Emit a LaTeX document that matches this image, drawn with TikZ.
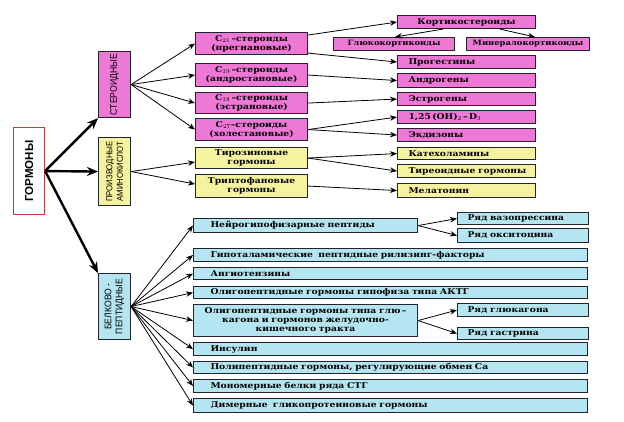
\documentclass[tikz,border=0pt]{standalone}
\usepackage{fontspec}
\setmainfont{DejaVu Serif}[FakeStretch=1.15]
\newfontfamily\lblfont[FakeStretch=0.9]{Liberation Sans}
\newfontfamily\gormfont{Liberation Sans}
\usetikzlibrary{arrows.meta,calc}
\definecolor{pinkf}{RGB}{238,120,214}
\definecolor{yelf}{RGB}{246,243,160}
\definecolor{bluef}{RGB}{180,229,240}
\definecolor{redb}{RGB}{196,60,50}
\definecolor{edge}{RGB}{35,35,45}
\tikzset{
  box/.style={draw=edge, line width=1.1pt, inner xsep=3pt, inner ysep=0pt, anchor=north west,
    font=\bfseries\fontsize{8}{9}\selectfont},
  pinkbox/.style={box, fill=pinkf},
  yelbox/.style={box, fill=yelf},
  bluebox/.style={box, fill=bluef},
  smallfont/.style={font=\bfseries\fontsize{7.3}{8}\selectfont},
  vlabel/.style={draw=edge, line width=1.1pt, anchor=north west, inner sep=0pt},
  vtext/.style={rotate=90, align=center, inner sep=0pt, font=\lblfont\fontsize{9.6}{11}\selectfont},
  arr/.style={-{Stealth[length=7pt,width=5.5pt]}, line width=0.8pt, draw=black},
  bigarr/.style={-{Stealth[length=11pt,width=9pt]}, line width=2.4pt, draw=black},
}
\newcommand\bx[8]{\node[#6, minimum width=#4pt, minimum height=#5pt, text width={#4pt-6pt}, align=#7] (#1) at (#2,#3) {#8};}
\begin{document}
\begin{tikzpicture}[x=1pt,y=-1pt]
\useasboundingbox (0,0) rectangle (624,421);
\fill[white] (0,0) rectangle (624,421);
% main boxes
\node[vlabel, draw=redb, fill=white, minimum width=31pt, minimum height=87pt] (gorm) at (13,127) {};
\node[rotate=90, inner sep=0pt, font=\gormfont\bfseries\fontsize{11.5}{12}\selectfont] (gormt) at (gorm.center) {ГОРМОНЫ};
\node[vlabel, fill=pinkf, minimum width=32pt, minimum height=66pt] (ster) at (98,51) {};
\node[vtext] (stert) at (ster.center) {СТЕРОИДНЫЕ};
\node[vlabel, fill=yelf, minimum width=32pt, minimum height=68pt] (amino) at (98,137) {};
\node[vtext, font=\lblfont\fontsize{8.6}{10.5}\selectfont] (aminot) at (amino.center) {ПРОИЗВОДНЫЕ\\АМИНОКИСЛОТ};
\node[vlabel, fill=bluef, minimum width=32pt, minimum height=66pt] (belk) at (98,273) {};
\node[vtext] (belkt) at (belk.center) {БЕЛКОВО -\\ПЕПТИДНЫЕ};
% steroids
\bx{c21}{195}{32}{112}{22}{pinkbox}{center}{C$_{21}$\,–стероиды\\(прегнановые)}
\bx{c19}{195}{63}{112}{23}{pinkbox}{center}{C$_{19}$\,–стероиды\\(андростановые)}
\bx{c18}{195}{92}{112}{21}{pinkbox}{center}{C$_{18}$\,–стероиды\\(эстрановые)}
\bx{c27}{195}{118}{112}{22}{pinkbox}{center}{C$_{27}$–стероиды\\(холестановые)}
\bx{tyr}{195}{147}{112}{21}{yelbox}{center}{Тирозиновые\\гормоны}
\bx{trp}{195}{174}{112}{23}{yelbox}{center}{Триптофановые\\гормоны}
\bx{kort}{397}{15}{138}{13}{pinkbox}{center}{Кортикостероиды}
\bx{gluc}{333}{37}{121}{13}{pinkbox, smallfont}{center}{Глюкокортикоиды}
\bx{miner}{466}{37}{123}{13}{pinkbox, smallfont}{center}{Минералокортикоиды}
\bx{prog}{397}{55}{138}{13}{pinkbox}{left}{\hspace*{8pt}Прогестины}
\bx{andr}{397}{73}{138}{14}{pinkbox}{left}{\hspace*{8pt}Андрогены}
\bx{estr}{397}{92}{138}{13}{pinkbox}{left}{\hspace*{8pt}Эстрогены}
\bx{d3}{397}{110}{138}{13}{pinkbox}{left}{\hspace*{8pt}1,25\,(OH)$_2$\,–\,D$_3$}
\bx{ekd}{397}{128}{138}{13}{pinkbox}{left}{\hspace*{8pt}Экдизоны}
\bx{kat}{397}{147}{138}{12}{yelbox}{left}{\hspace*{8pt}Катехоламины}
\bx{tir}{397}{164}{138}{13}{yelbox}{left}{\hspace*{8pt}Тиреоидные гормоны}
\bx{mel}{397}{183}{138}{14}{yelbox}{left}{\hspace*{8pt}Мелатонин}
% protein-peptide
\bx{neuro}{193}{218}{224}{14}{bluebox}{left}{\hspace*{14pt}Нейрогипофизарные пептиды}
\bx{hypo}{193}{248}{394}{13}{bluebox}{left}{\hspace*{14pt}Гипоталамические\ \ пептидные рилизинг-факторы}
\bx{angio}{193}{267}{394}{12}{bluebox}{left}{\hspace*{14pt}Ангиотензины}
\bx{oligo}{193}{286}{394}{12}{bluebox}{left}{\hspace*{14pt}Олигопептидные гормоны гипофиза типа АКТГ}
\bx{glu}{193}{304}{224}{32}{bluebox}{center}{Олигопептидные гормоны типа глю\,–\\кагона и гормонов желудочно-\\кишечного тракта}
\bx{ins}{193}{342}{394}{13}{bluebox}{left}{\hspace*{14pt}Инсулин}
\bx{poly}{193}{361}{394}{12}{bluebox}{left}{\hspace*{14pt}Полипептидные гормоны, регулирующие обмен Са}
\bx{mono}{193}{379}{394}{13}{bluebox}{left}{\hspace*{14pt}Мономерные белки ряда СТГ}
\bx{dim}{193}{398}{394}{14}{bluebox}{left}{\hspace*{14pt}Димерные\ \ гликопротеиновые гормоны}
\bx{vaz}{457}{212}{131}{12}{bluebox}{left}{\hspace*{7pt}Ряд вазопрессина}
\bx{oks}{457}{228}{131}{14}{bluebox}{left}{\hspace*{7pt}Ряд окситоцина}
\bx{glk}{457}{303}{131}{13}{bluebox}{left}{\hspace*{7pt}Ряд глюкагона}
\bx{gas}{457}{327}{131}{12}{bluebox}{left}{\hspace*{7pt}Ряд гастрина}
% big arrows
\draw[bigarr] (gorm.east) -- (ster.south west);
\draw[bigarr] (gorm.east) -- (amino.west);
\draw[bigarr] (gorm.east) -- (belk.north west);
% steroid arrows
\foreach \t in {c21,c19,c18,c27} \draw[arr] (ster.east) -- (\t.west);
\draw[arr] (amino.east) -- ($(tyr.west)+(0,4)$);
\draw[arr] (amino.east) -- ($(trp.west)+(0,-2)$);
\draw[arr] ($(c21.north east)+(0,3)$) -- (kort.west);
\draw[arr] ($(c21.south east)+(0,-2)$) -- (prog.west);
\draw[arr] (c19.east) -- (andr.west);
\draw[arr] (c18.east) -- (estr.west);
\draw[arr] (c27.east) -- (d3.west);
\draw[arr] (c27.east) -- (ekd.west);
\draw[arr] (tyr.east) -- (kat.west);
\draw[arr] (tyr.east) -- (tir.west);
\draw[arr] (trp.east) -- (mel.west);
\draw[arr] ($(kort.south west)+(46,0)$) -- ($(gluc.north west)+(62,0)$);
\draw[arr] ($(kort.south west)+(103,0)$) -- ($(miner.north west)+(69,0)$);
% protein arrows
\foreach \t in {neuro,hypo,angio,oligo,glu,ins,poly,mono,dim} \draw[arr] (belk.east) -- (\t.west);
\draw[arr] (neuro.east) -- (vaz.west);
\draw[arr] (neuro.east) -- (oks.west);
\draw[arr] (glu.east) -- (glk.west);
\draw[arr] (glu.east) -- (gas.west);
\end{tikzpicture}
\end{document}
